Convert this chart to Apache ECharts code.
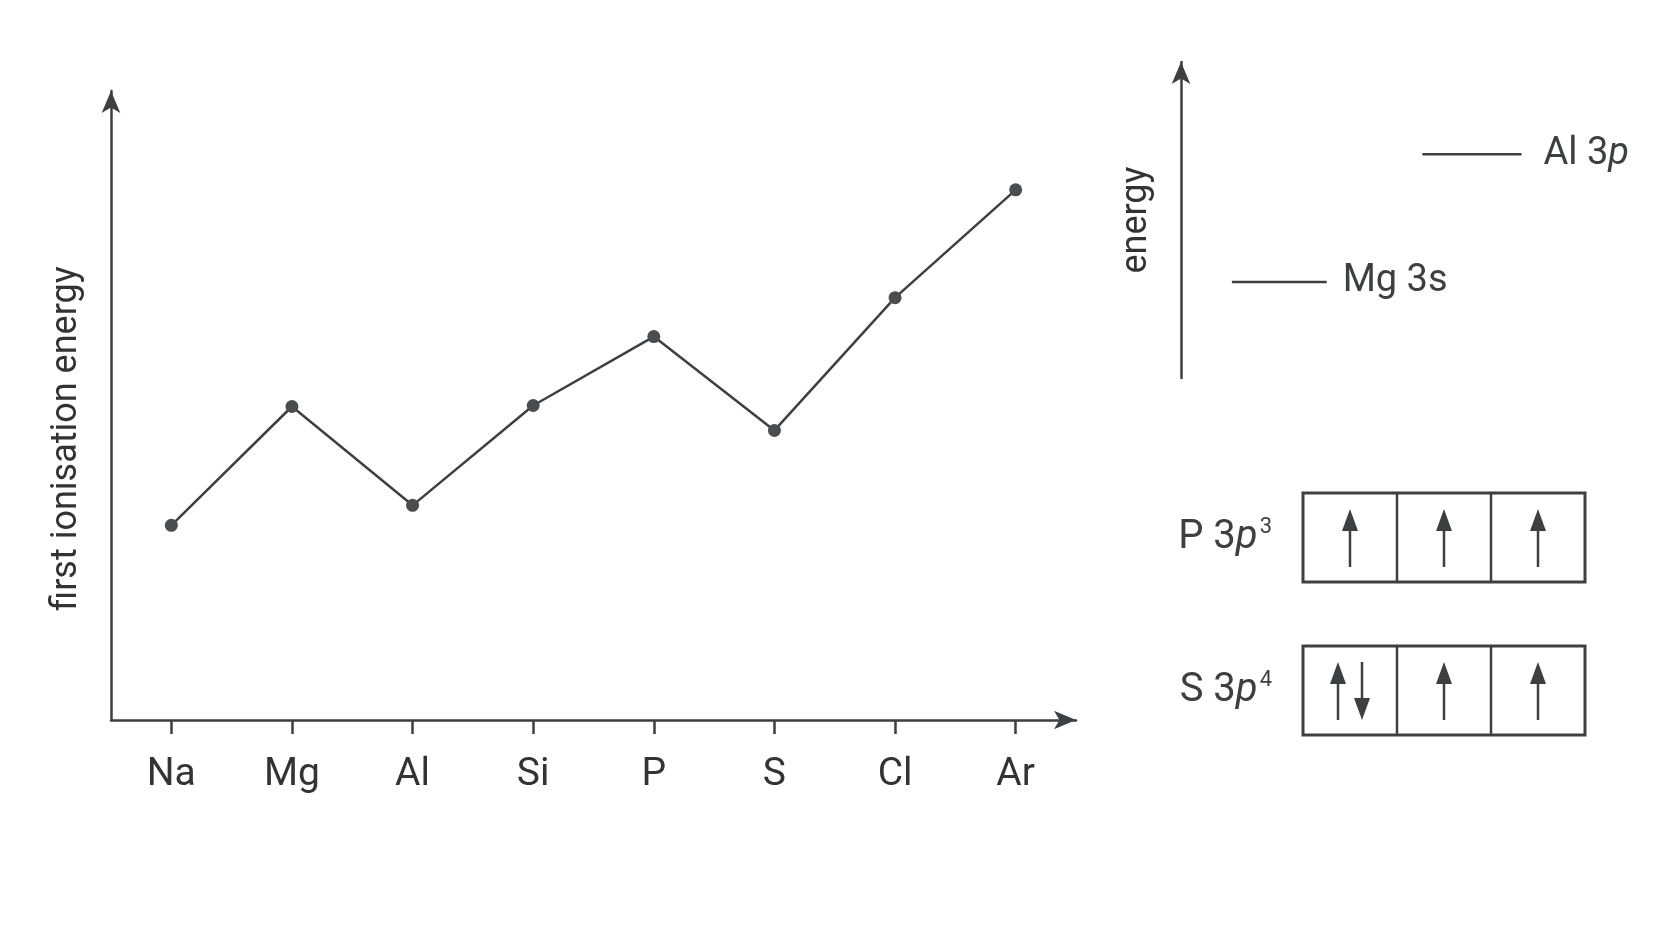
<!DOCTYPE html>
<html lang="en">
<head>
<meta charset="UTF-8">
<title>First ionisation energy, period 3</title>
<script src="https://cdn.jsdelivr.net/npm/echarts@6/dist/echarts.min.js"></script>
<style>html,body{margin:0;background:#fff}</style>
</head>
<body>
<div id="main" style="width:1672px;height:941px;"></div>
<script>
var elements = ['Na', 'Mg', 'Al', 'Si', 'P', 'S', 'Cl', 'Ar'];
var ionisation = [195, 314, 215, 315, 384, 290, 423, 531];
var levelNames = ['Mg 3s', 'Al 3p'];
var levelValues = [0.79, 1.84];
var configNames = ['P 3p', 'S 3p'];
var configSup = ['3', '4'];
var configBoxes = [['up', 'up', 'up'], ['updown', 'up', 'up']];

var ink = '#3d4043';
var font = '"Liberation Sans Narrow", Roboto, sans-serif';
var myChart = echarts.init(document.getElementById('main'));

// orbital boxes drawn as graphic shapes
var graphics = [];
function arrow(x, y1, y2) {
    var dir = y2 < y1 ? -1 : 1;
    graphics.push({type: 'line', shape: {x1: x, y1: y1, x2: x, y2: y2 - dir * 16}, style: {stroke: ink, lineWidth: 2.5}});
    graphics.push({type: 'polygon', shape: {points: [[x - 8, y2 - dir * 22], [x + 8, y2 - dir * 22], [x, y2]]}, style: {fill: ink}});
}
var boxLeft = 1303, cellW = 94, boxH = 89;
configNames.forEach(function (name, i) {
    var top = 493 + i * 153;
    graphics.push({type: 'text', x: 1272, y: top + boxH / 2, style: {
        text: '{a|' + name.split(' ')[0] + ' 3}{i|p}{s|' + configSup[i] + '}',
        align: 'right', verticalAlign: 'middle',
        rich: {a: {fontSize: 40, fontFamily: font, fill: ink}, i: {fontSize: 40, fontFamily: font, fontStyle: 'italic', fill: ink},
               s: {fontSize: 22, fontFamily: font, fill: ink, verticalAlign: 'top', padding: [0, 0, 20, 2]}}}});
    graphics.push({type: 'rect', shape: {x: boxLeft, y: top, width: cellW * 3, height: boxH}, style: {fill: 'none', stroke: ink, lineWidth: 3}});
    for (var k = 1; k < 3; k++) {
        graphics.push({type: 'line', shape: {x1: boxLeft + k * cellW, y1: top, x2: boxLeft + k * cellW, y2: top + boxH}, style: {stroke: ink, lineWidth: 2.5}});
    }
    configBoxes[i].forEach(function (c, k) {
        var cx = boxLeft + k * cellW + cellW / 2;
        if (c === 'up') arrow(cx, top + 74, top + 16);
        else { arrow(cx - 12, top + 74, top + 16); arrow(cx + 12, top + 16, top + 74); }
    });
});

option = {
    backgroundColor: '#fff',
    animation: false,
    grid: [
        {left: 111, right: 596, top: 91, bottom: 221},
        {left: 1181, right: 60, top: 62, bottom: 563}
    ],
    xAxis: [
        {
            type: 'category', data: elements, gridIndex: 0, boundaryGap: true,
            axisLine: {lineStyle: {color: ink, width: 2.5}, symbol: ['none', 'arrow'], symbolSize: [14, 22]},
            axisTick: {show: true, alignWithLabel: true, length: 14, lineStyle: {color: ink, width: 2.5}},
            axisLabel: {color: '#333', fontSize: 39, fontFamily: font, margin: 36}
        },
        {type: 'value', gridIndex: 1, min: 0, max: 10, show: false}
    ],
    yAxis: [
        {
            type: 'value', gridIndex: 0, min: 0, max: 630,
            name: 'first ionisation energy', nameLocation: 'middle', nameGap: 26, nameRotate: 90,
            nameTextStyle: {color: '#333', fontSize: 36, fontFamily: font, padding: [0, 66, 0, 0]},
            axisLine: {show: true, lineStyle: {color: ink, width: 2.5}, symbol: ['none', 'arrow'], symbolSize: [14, 22]},
            axisTick: {show: false}, axisLabel: {show: false}, splitLine: {show: false}
        },
        {
            type: 'value', gridIndex: 1, min: 0, max: 2.6,
            name: 'energy', nameLocation: 'middle', nameGap: 26, nameRotate: 90,
            nameTextStyle: {color: '#333', fontSize: 36, fontFamily: font},
            axisLine: {show: true, lineStyle: {color: ink, width: 2.5}, symbol: ['none', 'arrow'], symbolSize: [14, 22]},
            axisTick: {show: false}, axisLabel: {show: false}, splitLine: {show: false}
        }
    ],
    series: [
        {
            type: 'line', xAxisIndex: 0, yAxisIndex: 0, data: ionisation,
            symbol: 'circle', symbolSize: 13,
            lineStyle: {color: ink, width: 2.5}, itemStyle: {color: '#4a4d50'}
        },
        {
            type: 'custom', xAxisIndex: 1, yAxisIndex: 1,
            data: levelValues.map(function (v, i) { return [i, v]; }),
            renderItem: function (params, api) {
                var i = api.value(0);
                var x0 = [1.18, 5.6][i], x1 = [3.38, 7.9][i];
                var p0 = api.coord([x0, api.value(1)]), p1 = api.coord([x1, api.value(1)]);
                var name = levelNames[i].split(' ');
                return {type: 'group', children: [
                    {type: 'line', shape: {x1: p0[0], y1: p0[1], x2: p1[0], y2: p1[1]}, style: {stroke: ink, lineWidth: 2.5}},
                    {type: 'text', x: p1[0] + [16, 22][i], y: p1[1], style: {
                        text: i === 0 ? '{a|' + levelNames[i] + '}' : '{a|' + name[0] + ' 3}{i|p}',
                        verticalAlign: 'middle',
                        rich: {a: {fontSize: 38, fontFamily: font, fill: ink}, i: {fontSize: 38, fontFamily: font, fontStyle: 'italic', fill: ink}}}}
                ]};
            }
        }
    ],
    graphic: graphics
};
myChart.setOption(option);
</script>
</body>
</html>
